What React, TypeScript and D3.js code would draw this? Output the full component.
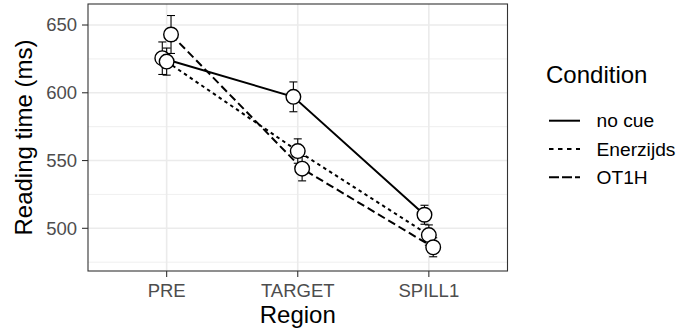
import React from 'react';
import * as d3 from 'd3';

// data
const regions = ['PRE', 'TARGET', 'SPILL1'];
const conditions = ['no cue', 'Enerzijds', 'OT1H'];
const meanNoCue = [625.5, 597, 510];
const meanEnerzijds = [623, 557, 495];
const meanOT1H = [643, 544, 486];
const seNoCue = [12, 11, 7];
const seEnerzijds = [10, 9, 7.5];
const seOT1H = [14, 9, 7];
const yTicks = [500, 550, 600, 650];
const yMinor = [475, 525, 575, 625];

const means = [meanNoCue, meanEnerzijds, meanOT1H];
const ses = [seNoCue, seEnerzijds, seOT1H];
const dashes = ['none', '3.5,3.5', '8,4'];
const legendDashes = ['none', '4.5,4.5', '10,3'];

const W = 678;
const H = 333;
const panel = { left: 88, right: 507.5, top: 4, bottom: 271 };
const font = '"Liberation Sans", Arial, Helvetica, sans-serif';
const dodgeWidth = 0.1;

const App = () => {
  const x = d3.scalePoint<string>()
    .domain(regions)
    .range([panel.left, panel.right])
    .padding(0.6);
  const y = d3.scaleLinear()
    .domain([468.5, 665.5])
    .range([panel.bottom, panel.top]);
  const step = x.step();

  // position_dodge style offset per condition
  const dx = (ci: number) => (ci - (conditions.length - 1) / 2) * (dodgeWidth / conditions.length) * step;

  const line = d3.line<[number, number]>()
    .x(d => d[0])
    .y(d => d[1]);

  const capHalf = 4;

  return (
    <svg width={W} height={H} style={{ position: 'absolute', left: 0, top: 0, background: '#fff' }}
      fontFamily={font}>
      {/* panel background & grid */}
      <rect x={panel.left} y={panel.top} width={panel.right - panel.left} height={panel.bottom - panel.top} fill="#fff" />
      {yMinor.map(v => (
        <line key={'mn' + v} x1={panel.left} x2={panel.right} y1={y(v)} y2={y(v)} stroke="#ebebeb" strokeWidth={0.8} />
      ))}
      {yTicks.map(v => (
        <line key={'mj' + v} x1={panel.left} x2={panel.right} y1={y(v)} y2={y(v)} stroke="#ebebeb" strokeWidth={1.6} />
      ))}
      {regions.map(r => (
        <line key={'gx' + r} x1={x(r)} x2={x(r)} y1={panel.top} y2={panel.bottom} stroke="#ebebeb" strokeWidth={1.6} />
      ))}

      {/* lines */}
      {means.map((m, ci) => (
        <path key={'ln' + ci}
          d={line(regions.map((r, i) => [(x(r) as number) + dx(ci), y(m[i])]) as [number, number][]) || ''}
          fill="none" stroke="#000" strokeWidth={2} strokeDasharray={dashes[ci]} />
      ))}

      {/* error bars */}
      {means.map((m, ci) => regions.map((r, i) => {
        const cx = (x(r) as number) + dx(ci);
        const lo = y(m[i] - ses[ci][i]);
        const hi = y(m[i] + ses[ci][i]);
        return (
          <g key={'eb' + ci + r} stroke="#000" strokeWidth={1.1}>
            <line x1={cx} x2={cx} y1={lo} y2={hi} />
            <line x1={cx - capHalf} x2={cx + capHalf} y1={lo} y2={lo} />
            <line x1={cx - capHalf} x2={cx + capHalf} y1={hi} y2={hi} />
          </g>
        );
      }))}

      {/* points */}
      {means.map((m, ci) => regions.map((r, i) => (
        <circle key={'pt' + ci + r} cx={(x(r) as number) + dx(ci)} cy={y(m[i])} r={7.3}
          fill="#fff" stroke="#000" strokeWidth={1.4} />
      )))}

      {/* panel border */}
      <rect x={panel.left} y={panel.top} width={panel.right - panel.left} height={panel.bottom - panel.top}
        fill="none" stroke="#333" strokeWidth={1.1} />

      {/* y axis */}
      {yTicks.map(v => (
        <g key={'yt' + v}>
          <line x1={panel.left - 6} x2={panel.left} y1={y(v)} y2={y(v)} stroke="#333" strokeWidth={1.1} />
          <text x={panel.left - 11} y={y(v)} dy="0.35em" textAnchor="end" fontSize={18.5} fill="#4d4d4d">{v}</text>
        </g>
      ))}
      <text transform={`translate(32,${(panel.top + panel.bottom) / 2}) rotate(-90)`} textAnchor="middle"
        fontSize={24} fill="#000">Reading time (ms)</text>

      {/* x axis */}
      {regions.map(r => (
        <g key={'xt' + r}>
          <line x1={x(r)} x2={x(r)} y1={panel.bottom} y2={panel.bottom + 6} stroke="#333" strokeWidth={1.1} />
          <text x={x(r)} y={296.5} textAnchor="middle" fontSize={18.5} fill="#4d4d4d">{r}</text>
        </g>
      ))}
      <text x={(panel.left + panel.right) / 2} y={323} textAnchor="middle" fontSize={24} fill="#000">Region</text>

      {/* legend */}
      <text x={546} y={82.5} fontSize={24} fill="#000">Condition</text>
      {conditions.map((c, ci) => {
        const ky = 120.7 + ci * 28.3;
        return (
          <g key={'lg' + c}>
            <line x1={549} x2={580} y1={ky} y2={ky} stroke="#000" strokeWidth={2} strokeDasharray={legendDashes[ci]} />
            <text x={596.5} y={ky} dy="0.35em" fontSize={19.2} fill="#000">{c}</text>
          </g>
        );
      })}
    </svg>
  );
};

export default App;
